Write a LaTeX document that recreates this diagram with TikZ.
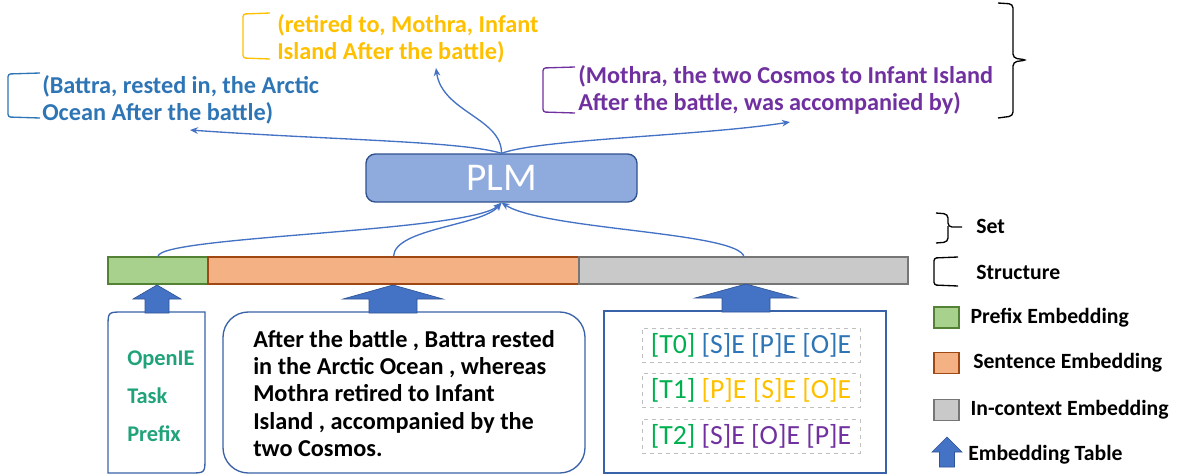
\documentclass[tikz,border=0pt]{standalone}
\usepackage{fontspec}
\setmainfont{Carlito}
\usetikzlibrary{arrows.meta}
\usetikzlibrary{positioning}

\definecolor{linkblue}{RGB}{68,114,196}
\definecolor{arrowline}{RGB}{47,85,151}
\definecolor{plmfill}{RGB}{143,170,220}
\definecolor{plmline}{RGB}{47,82,143}
\definecolor{boxline}{RGB}{58,98,168}
\definecolor{prefixfill}{RGB}{169,209,142}
\definecolor{prefixline}{RGB}{84,130,53}
\definecolor{sentfill}{RGB}{244,177,131}
\definecolor{sentline}{RGB}{160,72,20}
\definecolor{ctxfill}{RGB}{201,201,201}
\definecolor{ctxline}{RGB}{118,118,118}
\definecolor{tblue}{RGB}{46,117,182}
\definecolor{tyellow}{RGB}{255,192,0}
\definecolor{tpurple}{RGB}{112,48,160}
\definecolor{tgreen}{RGB}{0,176,80}
\definecolor{tteal}{RGB}{33,163,122}

\begin{document}
\begin{tikzpicture}[x=0.75pt, y=-0.75pt,
    flow/.style={linkblue, line width=1pt, -{Stealth[length=6pt,width=5pt]}},
    bar/.style={draw, line width=1pt, minimum height=20.25pt, inner sep=0pt},
    triple/.style={anchor=north west, inner sep=0pt, align=left, font=\fontsize{18.2}{20.5}\selectfont\bfseries},
    tokrow/.style={draw=black!25, dashed, line width=0.6pt, minimum width=163.5pt, minimum height=25.5pt, inner sep=0pt, font=\fontsize{20.8}{22}\selectfont},
    legsq/.style={draw, line width=1pt, minimum width=18.75pt, minimum height=15.75pt, inner sep=0pt},
    legtxt/.style={inner sep=0pt, anchor=west, font=\fontsize{16.3}{19}\selectfont\bfseries},
    pics/emb/.style args={#1/#2/#3/#4}{code={
        \filldraw[fill=linkblue, draw=arrowline, line width=0.5pt]
            (0,0) -- (#1,#3) -- (#2,#3) -- (#2,#4) -- (-#2,#4) -- (-#2,#3) -- (-#1,#3) -- cycle;}}
]
    \useasboundingbox (0,0) rectangle (1178,475);

    % Embedding bar
    \node[bar, fill=prefixfill, draw=prefixline, minimum width=75pt] (pre) at (158,270.5) {};
    \node[bar, fill=sentfill, draw=sentline, minimum width=278.25pt] (sen) at (393.5,270.5) {};
    \node[bar, fill=ctxfill, draw=ctxline, minimum width=246.75pt] (ctx) at (743.5,270.5) {};

    % Language model
    \node[draw=plmline, fill=plmfill, line width=1pt, rounded corners=7pt,
          minimum width=203.25pt, minimum height=36pt, text=white,
          font=\fontsize{29.5}{30}\selectfont] (plm) at (501.5,178) {PLM};

    % Bar to PLM
    \coordinate (ctxtop) at (744,257);
    \draw[flow] (pre.north) .. controls (160,236) and (470,232) .. (plm.south);
    \draw[flow] (sen.north) .. controls (395,228) and (482,226) .. (plm.south);
    \draw[flow] (ctxtop) .. controls (740,232) and (545,230) .. (plm.south);

    % Generated triples
    \node[triple, text=tblue] (tri0) at (42,75) {(Battra, rested in, the Arctic\\Ocean After the battle)};
    \node[triple, text=tyellow] (tri1) at (277,14) {(retired to, Mothra, Infant\\Island After the battle)};
    \node[triple, text=tpurple] (tri2) at (578,65) {(Mothra, the two Cosmos to Infant Island\\After the battle, was accompanied by)};

    \coordinate (end0) at (190,130);
    \coordinate (end1) at (436,68);
    \coordinate (end2) at (790,122);
    \draw[flow] (plm.north) .. controls (462,141) and (330,140) .. (end0);
    \draw[flow] (plm.north) .. controls (502,118) and (442,112) .. (end1);
    \draw[flow] (plm.north) .. controls (540,139) and (700,136) .. (end2);

    % Structure brackets
    \draw[tblue, line width=1pt, rounded corners=2pt] (40,73) -- (8,74) -- (8,117) -- (40,118);
    \draw[tyellow, line width=1pt, rounded corners=2pt] (270,13) -- (243,14) -- (243,58) -- (270,59);
    \draw[tpurple, line width=1pt, rounded corners=2pt] (575,67) -- (543,68) -- (543,112) -- (575,113);

    % Set brace
    \draw[line width=1pt, rounded corners=3pt] (998,3) -- (1013,4) -- (1013,58) -- (1027,60)
        -- (1013,62) -- (1013,116) -- (998,118);

    % Inputs
    \draw[boxline, line width=1pt] (108,473) -- (108,327) .. controls (108,312) .. (123,312)
        -- (205,312) -- (205,458) .. controls (205,473) .. (190,473) -- cycle;
    \node[anchor=north west, inner sep=0pt, align=left, text=tteal,
          font=\fontsize{16.8}{28.5}\selectfont\bfseries] (task) at (127,351) {OpenIE\\Task\\Prefix};

    \node[draw=boxline, line width=1pt, rounded corners=19pt, minimum width=271.5pt,
          minimum height=120.75pt] (sbox) at (404,392.5) {};
    \node[triple] (sent) at (253,330) {After the battle , Battra rested\\in the Arctic Ocean , whereas\\Mothra retired to Infant\\Island , accompanied by the\\two Cosmos.};

    \node[draw=boxline, line width=1pt, minimum width=211.5pt, minimum height=121.5pt] (tbl) at (745,392) {};
    \node[tokrow] (row0) at (751,345) {\textcolor{tgreen}{[T0]} \textcolor{tblue}{[S]E [P]E [O]E}};
    \node[tokrow] (row1) at (751,390.5) {\textcolor{tgreen}{[T1]} \textcolor{tyellow}{[P]E [S]E [O]E}};
    \node[tokrow] (row2) at (751,436) {\textcolor{tgreen}{[T2]} \textcolor{tpurple}{[S]E [O]E [P]E}};

    % Embedding tables
    \pic at (157,285) {emb={24/12/14/28}};
    \pic at (393,285) {emb={50/24/14/28}};
    \pic at (746,284) {emb={51/24/14/28}};

    % Legend
    \draw[line width=1pt, rounded corners=3pt] (936,213) -- (948,214) -- (948,227) -- (962,227);
    \draw[line width=1pt, rounded corners=3pt] (948,226) -- (948,242) -- (936,243);
    \node[legtxt] (lset) at (976,226) {Set};
    \draw[line width=1pt, rounded corners=2pt] (958,257) -- (934,258) -- (934,285) -- (958,286);
    \node[legtxt] (lstruct) at (976,272) {Structure};

    \node[legsq, fill=prefixfill, draw=prefixline] (lpre) at (946.5,317.5) {};
    \node[legtxt, right=8pt of lpre] (lpretxt) {Prefix Embedding};
    \node[legsq, fill=sentfill, draw=sentline] (lsen) at (946.5,363) {};
    \node[legtxt, right=10pt of lsen] (lsentxt) {Sentence Embedding};
    \node[legsq, fill=ctxfill, draw=ctxline] (lctx) at (946.5,410) {};
    \node[legtxt, right=8pt of lctx] (lctxtxt) {In-context Embedding};

    \pic at (947,437) {emb={15/7.5/15/30}};
    \node[legtxt] (lemb) at (968,455) {Embedding Table};
\end{tikzpicture}
\end{document}
